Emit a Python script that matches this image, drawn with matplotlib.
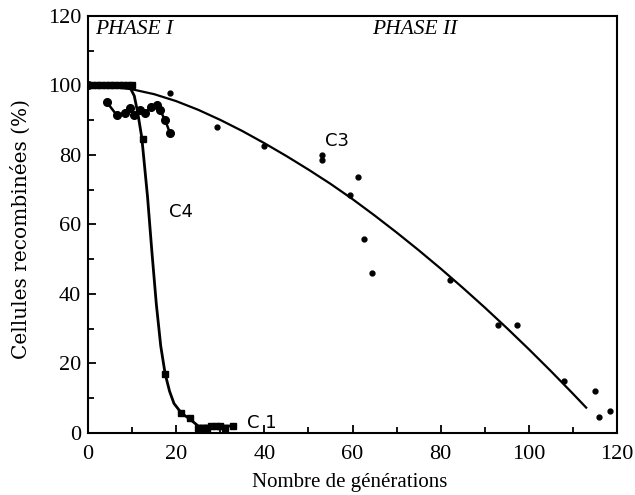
import matplotlib.pyplot as plt
import numpy as np

# C1: squares, steep drop around 15 generations
c1_x = [0, 1, 2, 3, 4, 5, 6, 7, 8, 9, 10, 12.5, 17.5, 21.2, 23.1, 25, 26, 27, 28, 29, 30, 31, 33]
c1_y = [100, 100, 100, 100, 100, 100, 100, 100, 100, 100, 100, 84.5, 17, 5.7, 4.3, 1.5, 1.5, 1.5, 2, 2, 2, 1.5, 2]
c1_line_x = [0, 9.5, 10.5, 11.3, 12.2, 13.5, 14.5, 15.5, 16.5, 17.5, 18.5, 19.5, 21.2, 23.1, 25, 33]
c1_line_y = [100, 99.5, 97, 92, 85, 68, 52, 37, 25, 17, 12, 8.5, 5.7, 4, 2, 2]

# C4: circles joined by a line
c4_x = [4.2, 6.5, 8.4, 9.5, 10.5, 11.8, 13, 14.4, 15.6, 16.3, 17.5, 18.6]
c4_y = [95.3, 91.5, 92, 93.5, 91.5, 93, 92, 93.9, 94.4, 93, 90, 86.3]

# C3: dots plus a fitted curve
c3_x = [0, 18.6, 29.2, 40, 53, 53, 59.4, 61.3, 62.7, 64.5, 82, 93, 97.4, 108, 115.1, 115.9, 118.4]
c3_y = [100, 97.8, 88.1, 82.7, 80, 78.5, 68.5, 73.8, 55.8, 46.1, 44, 31.1, 31.1, 15, 12.1, 4.5, 6.4]
fit_x = [0, 5, 10, 15, 20, 25, 30, 35, 40, 45, 50, 55, 60, 65, 70, 75, 80, 85, 90, 95,
         100, 105, 110, 113]
fit_y = [100, 99.7, 98.9, 97.5, 95.5, 93.0, 90.1, 86.9, 83.4, 79.7, 75.8, 71.7, 67.3,
         62.6, 57.7, 52.6, 47.3, 41.8, 36.1, 30.2, 24.1, 17.8, 11.3, 7.3]

fig = plt.figure(figsize=(6.35, 4.95), dpi=100)
ax = fig.add_axes([0.1386, 0.1253, 0.8331, 0.8424])

ax.plot(fit_x, fit_y, color='black', lw=1.6)
ax.plot(c3_x, c3_y, 'o', color='black', ms=3.5, ls='none')
ax.plot(0, 100, 'o', color='black', ms=5.5)

ax.plot(c1_line_x, c1_line_y, color='black', lw=2.0)
ax.plot(c1_x, c1_y, 's', color='black', mfc='black', ms=4.5, ls='none')

ax.plot(c4_x, c4_y, '-o', color='black', lw=1.8, ms=5.5)

ax.set_xlim(0, 120)
ax.set_ylim(0, 120)
ax.set_xticks(np.arange(0, 121, 20))
ax.set_yticks(np.arange(0, 121, 20))
ax.set_xticks(np.arange(0, 121, 10), minor=True)
ax.set_yticks(np.arange(0, 121, 10), minor=True)
ax.tick_params(which='both', direction='in', top=False, right=False,
               width=1.3, labelsize=16)
ax.tick_params(which='major', length=6)
ax.tick_params(which='minor', length=4)
ax.tick_params(axis='x', which='major', pad=9)
ax.tick_params(axis='y', which='major', pad=5)
for lab in ax.get_xticklabels() + ax.get_yticklabels():
    lab.set_family('Liberation Serif')
for s in ax.spines.values():
    s.set_linewidth(1.5)

ax.set_xlabel('Nombre de générations', family='Liberation Serif', fontsize=15)
ax.set_ylabel('Cellules recombinées (%)', family='DejaVu Serif', fontsize=14.5)
ax.xaxis.set_label_coords(0.495, -0.095)
ax.yaxis.set_label_coords(-0.108, 0.49)

ax.text(1.5, 116, 'PHASE I', family='Liberation Serif', style='italic', fontsize=15.5,
        va='center', ha='left')
ax.text(64.5, 116, 'PHASE II', family='Liberation Serif', style='italic', fontsize=15.5,
        va='center', ha='left')

ax.text(36, 3, 'C 1', fontsize=13, va='center', ha='left', family='DejaVu Sans')
ax.text(21, 63.5, 'C4', fontsize=13, va='center', ha='center', family='DejaVu Sans')
ax.text(56.5, 84, 'C3', fontsize=13, va='center', ha='center', family='DejaVu Sans')

fig.savefig('out.png', dpi=100)
